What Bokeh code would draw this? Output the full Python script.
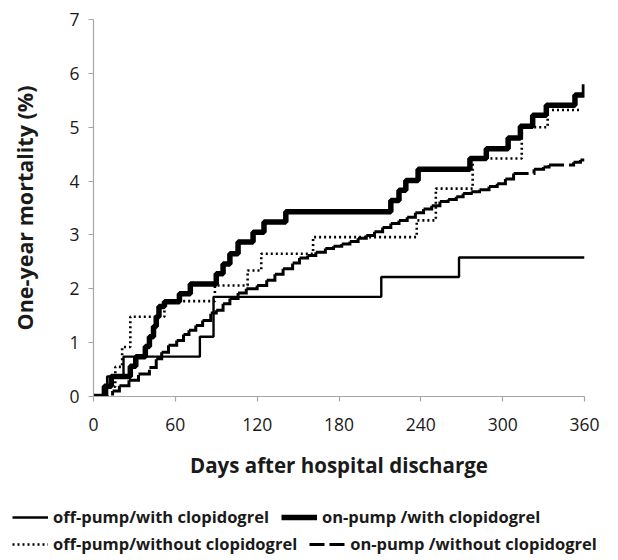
from bokeh.plotting import figure
from bokeh.layouts import column
from bokeh.models import Range1d, Legend, LegendItem, FixedTicker
from bokeh.embed import file_html
from bokeh.resources import INLINE

# ---- data ----
x_ticks = [0, 60, 120, 180, 240, 300, 360]
y_ticks = [0, 1, 2, 3, 4, 5, 6, 7]

# off-pump / with clopidogrel
offw_days = [0, 10, 22, 78, 88, 211, 268, 360]
offw_vals = [0, 0.37, 0.74, 1.11, 1.85, 2.22, 2.58, 2.58]

# on-pump / with clopidogrel
onw_days = [0, 8, 13, 27, 31, 38, 41, 44, 46, 48, 52, 63, 71, 90, 95, 100, 106, 117,
            125, 141, 218, 224, 229, 238, 276, 288, 304, 313, 322, 332, 353, 360]
onw_vals = [0, 0.19, 0.37, 0.56, 0.74, 0.93, 1.11, 1.30, 1.48, 1.67, 1.76, 1.91, 2.09,
            2.28, 2.46, 2.65, 2.87, 3.05, 3.24, 3.43, 3.64, 3.83, 4.01, 4.22, 4.42,
            4.60, 4.80, 5.02, 5.22, 5.41, 5.60, 5.80]

# off-pump / without clopidogrel
offwo_days = [0, 9, 16, 21, 27, 52, 89, 113, 123, 161, 237, 251, 278, 314, 333, 358]
offwo_vals = [0, 0.18, 0.55, 0.92, 1.48, 1.77, 2.06, 2.34, 2.65, 2.96, 3.27, 3.86,
              4.42, 5.00, 5.32, 5.32]

# on-pump / without clopidogrel
onwo_days = [0, 14, 19, 26, 33, 41, 46, 50, 55, 61, 66, 70, 75, 80, 86, 90, 95, 100,
             106, 112, 120, 127, 133, 139, 146, 151, 157, 163, 170, 176, 182, 188, 194,
             200, 206, 212, 218, 224, 230, 236, 242, 248, 254, 260, 266, 271, 277, 283,
             290, 296, 302, 308, 323, 330, 334, 352, 357, 360]
onwo_vals = [0, 0.10, 0.20, 0.30, 0.42, 0.54, 0.70, 0.82, 0.95, 1.04, 1.15, 1.23, 1.32,
             1.41, 1.55, 1.60, 1.72, 1.82, 1.92, 2.00, 2.06, 2.16, 2.27, 2.37, 2.48,
             2.57, 2.62, 2.68, 2.75, 2.79, 2.83, 2.88, 2.94, 2.99, 3.06, 3.14, 3.21,
             3.27, 3.33, 3.41, 3.48, 3.54, 3.62, 3.66, 3.71, 3.77, 3.80, 3.84, 3.90,
             3.95, 4.04, 4.14, 4.22, 4.26, 4.30, 4.35, 4.39, 4.39]

labels = ["off-pump/with clopidogrel", "on-pump /with clopidogrel",
          "off-pump/without clopidogrel", "on-pump /without clopidogrel"]

FONT = "Open Sans"
NAN = float("nan")

STY_OFFW = dict(line_color="black", line_width=2.4)
STY_OFFWO = dict(line_color="black", line_width=2.6, line_dash="2 3")
STY_ONWO = dict(line_color="black", line_width=3, line_dash="15 5")
STY_ONW = dict(line_color="black", line_width=5.5)

p = figure(width=610, height=488, x_range=Range1d(0, 360), y_range=Range1d(0, 7),
           output_backend="svg", toolbar_location=None,
           min_border_left=93, min_border_right=26, min_border_top=19,
           min_border_bottom=92)
p.frame_align = False
p.outline_line_color = None
p.grid.visible = False

p.step(offw_days, offw_vals, mode="after", **STY_OFFW)
p.step(offwo_days, offwo_vals, mode="after", **STY_OFFWO)

# step segments of the on-pump/without curve, each stroked on its own
seg_x, seg_y = [], []
for i in range(len(onwo_days) - 1):
    seg_x.append([onwo_days[i], onwo_days[i + 1], onwo_days[i + 1]])
    seg_y.append([onwo_vals[i], onwo_vals[i], onwo_vals[i + 1]])
p.multi_line(seg_x, seg_y, line_join="miter", **STY_ONWO)

p.step(onw_days, onw_vals, mode="after", **STY_ONW)

# axes
for ax in (p.xaxis[0], p.yaxis[0]):
    ax.axis_line_color = "#A6A6A6"
    ax.axis_line_width = 1.2
    ax.major_tick_line_color = "#A6A6A6"
    ax.major_tick_line_width = 1.2
    ax.minor_tick_line_color = None
    ax.major_tick_in = 0
    ax.major_tick_out = 5
    ax.major_label_text_font = FONT
    ax.major_label_text_font_size = "17.5px"
    ax.major_label_text_color = "#1a1a1a"
    ax.axis_label_text_font = FONT
    ax.axis_label_text_font_style = "bold"
    ax.axis_label_text_color = "#1a1a1a"

p.xaxis.axis_label_text_font_size = "20.5px"
p.yaxis.axis_label_text_font_size = "21.5px"
p.xaxis.ticker = FixedTicker(ticks=x_ticks)
p.yaxis.ticker = FixedTicker(ticks=y_ticks)
p.xaxis.axis_label = "Days after hospital discharge"
p.yaxis.axis_label = "One-year mortality (%)"
p.xaxis.major_label_standoff = 16
p.xaxis.axis_label_standoff = 17
p.yaxis.major_label_standoff = 9
p.yaxis.axis_label_standoff = 27

# ---- legend strip below the chart ----
lg = figure(width=610, height=68, x_range=Range1d(0, 1), y_range=Range1d(0, 1),
            output_backend="svg", toolbar_location=None,
            x_axis_type=None, y_axis_type=None,
            min_border_left=0, min_border_right=0, min_border_top=0,
            min_border_bottom=0)
lg.frame_align = False
lg.outline_line_color = None
lg.grid.visible = False
k_offw = lg.line([NAN], [NAN], **STY_OFFW)
k_onw = lg.line([NAN], [NAN], **STY_ONW)
k_offwo = lg.line([NAN], [NAN], **STY_OFFWO)
k_onwo = lg.line([NAN], [NAN], **STY_ONWO)


def make_legend(items, loc):
    return Legend(items=items, location=loc, orientation="horizontal",
                  padding=0, margin=0, spacing=12, glyph_height=22, label_height=22,
                  glyph_width=36, label_standoff=5,
                  label_text_font=FONT, label_text_font_style="bold",
                  label_text_font_size="16.5px", label_text_color="#1a1a1a",
                  border_line_color=None, background_fill_alpha=0)


row1 = make_legend([LegendItem(label=labels[0], renderers=[k_offw]),
                    LegendItem(label=labels[1], renderers=[k_onw])], (12, 28))
row2 = make_legend([LegendItem(label=labels[2], renderers=[k_offwo]),
                    LegendItem(label=labels[3], renderers=[k_onwo])], (12, 1))
lg.add_layout(row1, "center")
lg.add_layout(row2, "center")

page = column(p, lg, spacing=0)
open("out.html", "w").write(file_html(page, INLINE))
